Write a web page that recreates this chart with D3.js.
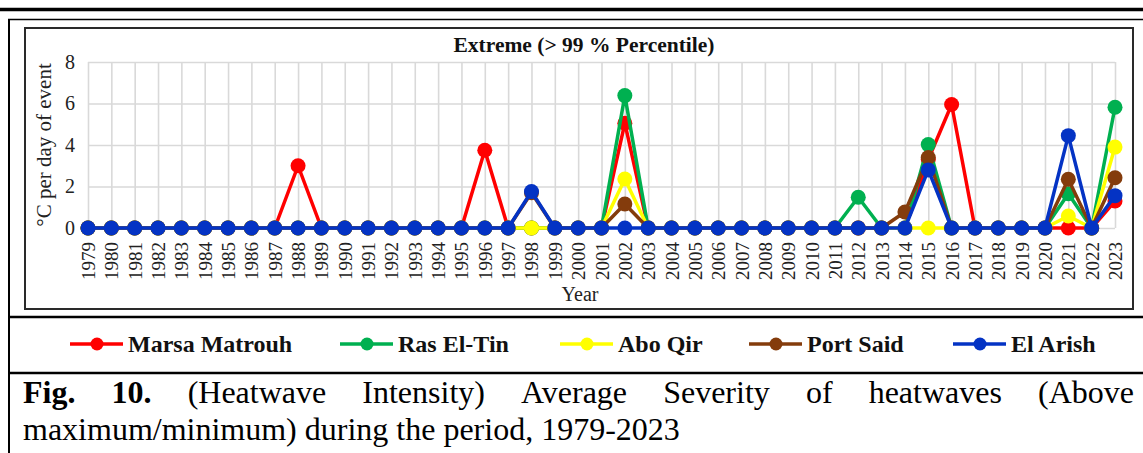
<!DOCTYPE html>
<html lang="en">
<head>
  <meta charset="UTF-8">
  <title>Extreme heatwave intensity</title>
  <style>
    body { margin: 0; background: #fff; overflow: hidden; }
    svg, svg text { font-family: "Liberation Serif", "Times New Roman", serif; }
    .grid line { stroke: #d9d9d9; stroke-width: 1.6px; }
    .grid path { display: none; }
    .tick text { fill: #222; }
  </style>
</head>
<body>
  <script src="https://cdn.jsdelivr.net/npm/d3@7"></script>
  <script>
    // years on the x axis
    const years = d3.range(1979, 2024);

    // average severity (°C per day of event), one value per year 1979-2023
    //                    1979 ............................ 1988 | 1989 ......................... 1998 | 1999 ........................ 2008 | 2009 ...................... 2018 | 2019 .. 2023
    const marsaMatrouh = [0,0,0,0,0,0,0,0,0,3.0, 0,0,0,0,0,0,0,3.75,0,0, 0,0,0,5.05,0,0,0,0,0,0, 0,0,0,0,0,0,3.3,5.95,0,0, 0,0,0,0,1.3];
    const rasElTin     = [0,0,0,0,0,0,0,0,0,0, 0,0,0,0,0,0,0,0,0,0, 0,0,0,6.38,0,0,0,0,0,0, 0,0,0,1.48,0,0,4.02,0,0,0, 0,0,1.65,0,5.82];
    const aboQir       = [0,0,0,0,0,0,0,0,0,0, 0,0,0,0,0,0,0,0,0,0, 0,0,0,2.36,0,0,0,0,0,0, 0,0,0,0,0,0,0,0,0,0, 0,0,0.58,0,3.9];
    const portSaid     = [0,0,0,0,0,0,0,0,0,0, 0,0,0,0,0,0,0,0,0,1.7, 0,0,0,1.16,0,0,0,0,0,0, 0,0,0,0,0,0.77,3.4,0,0,0, 0,0,2.35,0,2.42];
    const elArish      = [0,0,0,0,0,0,0,0,0,0, 0,0,0,0,0,0,0,0,0,1.76, 0,0,0,0,0,0,0,0,0,0, 0,0,0,0,0,0,2.8,0,0,0, 0,0,4.45,0,1.56];

    const seriesNames  = ["Marsa Matrouh", "Ras El-Tin", "Abo Qir", "Port Said", "El Arish"];
    const seriesValues = [marsaMatrouh, rasElTin, aboQir, portSaid, elArish];
    const seriesColors = ["#ff0000", "#00b050", "#ffff00", "#843c0c", "#0433c4"];
    const yTicks = [0, 2, 4, 6, 8];

    const chartTitle = "Extreme (> 99 % Percentile)";
    const yTitle = "°C per day of event";
    const xTitle = "Year";
    const captionLine1 = [["Fig.", true], ["10.", true], ["(Heatwave", false], ["Intensity)", false],
                          ["Average", false], ["Severity", false], ["of", false], ["heatwaves", false], ["(Above", false]];
    const captionLine2 = "maximum/minimum) during the period, 1979-2023";

    const serif = "'Liberation Serif', 'Times New Roman', serif";
    const W = 1143, H = 453;
    const svg = d3.select("body").append("svg").attr("width", W).attr("height", H)
      .attr("font-family", serif);

    // page / table frame
    svg.append("line").attr("x1", 0).attr("x2", W).attr("y1", 9.5).attr("y2", 9.5)
      .attr("stroke", "#000").attr("stroke-width", 3.5);
    svg.append("line").attr("x1", 8).attr("x2", W).attr("y1", 19.5).attr("y2", 19.5)
      .attr("stroke", "#000").attr("stroke-width", 1.6);
    svg.append("line").attr("x1", 9).attr("x2", 9).attr("y1", 19).attr("y2", H)
      .attr("stroke", "#000").attr("stroke-width", 2);
    svg.append("line").attr("x1", 8).attr("x2", W).attr("y1", 317).attr("y2", 317)
      .attr("stroke", "#000").attr("stroke-width", 2.5);
    svg.append("line").attr("x1", 8).attr("x2", W).attr("y1", 373).attr("y2", 373)
      .attr("stroke", "#000").attr("stroke-width", 2.5);

    // chart area box
    svg.append("rect").attr("x", 25).attr("y", 28).attr("width", 1108).attr("height", 281)
      .attr("fill", "none").attr("stroke", "#2a2a2a").attr("stroke-width", 2);

    // scales
    const x = d3.scalePoint().domain(years).range([88, 1115]);
    const y = d3.scaleLinear().domain([0, 8]).range([228, 62]);

    // gridlines + tick labels
    const yAxis = svg.append("g").attr("class", "grid")
      .attr("transform", "translate(88,0)")
      .call(d3.axisLeft(y).tickValues(yTicks).tickSize(-(1115 - 88)).tickPadding(13));
    yAxis.attr("font-family", serif);
    yAxis.selectAll("text").attr("font-size", 20);

    const xAxis = svg.append("g").attr("class", "grid")
      .attr("transform", "translate(0,228)")
      .call(d3.axisBottom(x).tickSize(-(228 - 62)).tickFormat(d3.format("d")));
    xAxis.attr("font-family", serif);
    xAxis.selectAll("text")
      .attr("font-size", 19)
      .attr("text-anchor", "end")
      .attr("dy", null)
      .attr("transform", "translate(6.5,14) rotate(-90)")
      .attr("x", 0).attr("y", 0);

    // titles
    svg.append("text").attr("x", 584).attr("y", 52).attr("text-anchor", "middle")
      .attr("font-size", 21.5).attr("font-weight", "bold").attr("fill", "#111").text(chartTitle);
    svg.append("text").attr("transform", "translate(51,145) rotate(-90)").attr("text-anchor", "middle")
      .attr("font-size", 21).attr("fill", "#222").text(yTitle);
    svg.append("text").attr("x", 580).attr("y", 301).attr("text-anchor", "middle")
      .attr("font-size", 20).attr("fill", "#222").text(xTitle);

    // series
    const line = d3.line().x((d, i) => x(years[i])).y(d => y(d));
    seriesValues.forEach((vals, k) => {
      const g = svg.append("g");
      g.append("path").datum(vals).attr("d", line)
        .attr("fill", "none").attr("stroke", seriesColors[k]).attr("stroke-width", 3.5)
        .attr("stroke-linejoin", "round");
      g.selectAll("circle").data(vals).join("circle")
        .attr("cx", (d, i) => x(years[i])).attr("cy", d => y(d)).attr("r", 7.5)
        .attr("fill", seriesColors[k]);
    });

    // legend
    const legendX = [70, 340, 560, 749, 953];
    const legend = svg.append("g").attr("transform", "translate(0,344)");
    seriesNames.forEach((name, k) => {
      const lx = legendX[k];
      legend.append("line").attr("x1", lx).attr("x2", lx + 53).attr("y1", 0).attr("y2", 0)
        .attr("stroke", seriesColors[k]).attr("stroke-width", 3.5);
      legend.append("circle").attr("cx", lx + 27).attr("cy", 0).attr("r", 6.5).attr("fill", seriesColors[k]);
      legend.append("text").attr("x", lx + 58).attr("y", 8).attr("font-size", 24)
        .attr("font-weight", "bold").attr("fill", "#111").text(name);
    });

    // caption, first line justified between the borders
    const capSize = 32;
    const c1 = svg.append("g");
    const words = c1.selectAll("text").data(captionLine1).join("text")
      .attr("y", 403).attr("font-size", capSize)
      .attr("font-weight", d => d[1] ? "bold" : "normal")
      .attr("fill", "#000").text(d => d[0]);
    const widths = words.nodes().map(n => n.getComputedTextLength());
    const left = 23, right = 1134;
    const gap = (right - left - d3.sum(widths)) / (widths.length - 1);
    let cx = left;
    words.attr("x", (d, i) => { const p = cx; cx += widths[i] + gap; return p; });

    svg.append("text").attr("x", 23).attr("y", 440).attr("font-size", capSize)
      .attr("fill", "#000").text(captionLine2);
  </script>
</body>
</html>
